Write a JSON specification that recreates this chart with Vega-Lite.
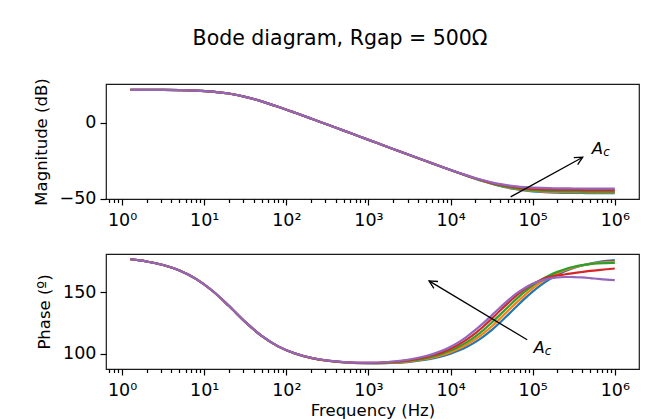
{
  "$schema": "https://vega.github.io/schema/vega-lite/v6.json",
  "padding": {"left": 32, "top": 28, "right": 5, "bottom": 5},
  "title": {"text": "Bode diagram, Rgap = 500Ω", "font": "DejaVu Sans", "fontSize": 20.5, "fontWeight": "normal", "color": "black", "anchor": "middle", "offset": 28, "dx": 4},
  "spacing": 23,
  "config": {
    "font": "DejaVu Sans",
    "view": {"stroke": "#1a1a1a", "strokeWidth": 1.2},
    "axis": {"labelFont": "DejaVu Sans", "titleFont": "DejaVu Sans", "labelFontSize": 17.5, "titleFontSize": 16.5, "titleFontWeight": "normal", "labelColor": "black", "titleColor": "black", "tickColor": "black", "tickWidth": 1.2, "domain": false, "grid": false, "tickSize": 6, "labelPadding": 4, "titlePadding": 10}
  },
  "datasets": {
    "mag": [
      {"f": 1.259, "s1": 21.49, "s2": 21.49, "s3": 21.49, "s4": 21.49, "s5": 21.49},
      {"f": 1.995, "s1": 21.47, "s2": 21.47, "s3": 21.47, "s4": 21.47, "s5": 21.47},
      {"f": 3.162, "s1": 21.42, "s2": 21.42, "s3": 21.42, "s4": 21.42, "s5": 21.42},
      {"f": 5.012, "s1": 21.30, "s2": 21.30, "s3": 21.30, "s4": 21.30, "s5": 21.30},
      {"f": 7.943, "s1": 21.01, "s2": 21.01, "s3": 21.01, "s4": 21.01, "s5": 21.01},
      {"f": 12.59, "s1": 20.36, "s2": 20.36, "s3": 20.36, "s4": 20.36, "s5": 20.36},
      {"f": 19.95, "s1": 19.06, "s2": 19.06, "s3": 19.06, "s4": 19.06, "s5": 19.06},
      {"f": 31.62, "s1": 16.89, "s2": 16.89, "s3": 16.89, "s4": 16.89, "s5": 16.89},
      {"f": 50.12, "s1": 13.90, "s2": 13.90, "s3": 13.90, "s4": 13.90, "s5": 13.90},
      {"f": 79.43, "s1": 10.38, "s2": 10.38, "s3": 10.38, "s4": 10.38, "s5": 10.38},
      {"f": 125.9, "s1": 6.59, "s2": 6.59, "s3": 6.59, "s4": 6.59, "s5": 6.59},
      {"f": 199.5, "s1": 2.68, "s2": 2.68, "s3": 2.68, "s4": 2.68, "s5": 2.68},
      {"f": 316.2, "s1": -1.29, "s2": -1.29, "s3": -1.29, "s4": -1.29, "s5": -1.29},
      {"f": 501.2, "s1": -5.28, "s2": -5.28, "s3": -5.28, "s4": -5.28, "s5": -5.28},
      {"f": 794.3, "s1": -9.27, "s2": -9.27, "s3": -9.27, "s4": -9.27, "s5": -9.27},
      {"f": 1259, "s1": -13.27, "s2": -13.27, "s3": -13.27, "s4": -13.27, "s5": -13.27},
      {"f": 1995, "s1": -17.26, "s2": -17.26, "s3": -17.26, "s4": -17.26, "s5": -17.26},
      {"f": 3162, "s1": -21.26, "s2": -21.25, "s3": -21.25, "s4": -21.25, "s5": -21.24},
      {"f": 5012, "s1": -25.24, "s2": -25.23, "s3": -25.23, "s4": -25.22, "s5": -25.20},
      {"f": 6310, "s1": -27.22, "s2": -27.21, "s3": -27.20, "s4": -27.18, "s5": -27.16},
      {"f": 7943, "s1": -29.18, "s2": -29.17, "s3": -29.16, "s4": -29.14, "s5": -29.10},
      {"f": 10000, "s1": -31.14, "s2": -31.12, "s3": -31.10, "s4": -31.06, "s5": -31.00},
      {"f": 12589, "s1": -33.06, "s2": -33.03, "s3": -33.00, "s4": -32.94, "s5": -32.86},
      {"f": 15849, "s1": -34.94, "s2": -34.90, "s3": -34.86, "s4": -34.76, "s5": -34.63},
      {"f": 19953, "s1": -36.76, "s2": -36.70, "s3": -36.63, "s4": -36.48, "s5": -36.30},
      {"f": 25119, "s1": -38.48, "s2": -38.39, "s3": -38.30, "s4": -38.08, "s5": -37.83},
      {"f": 31623, "s1": -40.08, "s2": -39.96, "s3": -39.83, "s4": -39.51, "s5": -39.20},
      {"f": 39811, "s1": -41.51, "s2": -41.36, "s3": -41.20, "s4": -40.73, "s5": -40.26},
      {"f": 50119, "s1": -42.73, "s2": -42.50, "s3": -42.26, "s4": -41.73, "s5": -41.20},
      {"f": 63096, "s1": -43.73, "s2": -43.47, "s3": -43.20, "s4": -42.51, "s5": -41.83},
      {"f": 79433, "s1": -44.51, "s2": -44.17, "s3": -43.83, "s4": -43.08, "s5": -42.30},
      {"f": 100000, "s1": -45.08, "s2": -44.69, "s3": -44.30, "s4": -43.48, "s5": -42.63},
      {"f": 125893, "s1": -45.48, "s2": -45.06, "s3": -44.63, "s4": -43.76, "s5": -42.86},
      {"f": 158489, "s1": -45.76, "s2": -45.31, "s3": -44.86, "s4": -43.94, "s5": -43.00},
      {"f": 199526, "s1": -45.94, "s2": -45.47, "s3": -45.00, "s4": -44.06, "s5": -43.10},
      {"f": 251189, "s1": -46.06, "s2": -45.58, "s3": -45.10, "s4": -44.14, "s5": -43.16},
      {"f": 316228, "s1": -46.14, "s2": -45.65, "s3": -45.16, "s4": -44.18, "s5": -43.20},
      {"f": 398107, "s1": -46.18, "s2": -45.69, "s3": -45.20, "s4": -44.22, "s5": -43.23},
      {"f": 501187, "s1": -46.22, "s2": -45.73, "s3": -45.23, "s4": -44.24, "s5": -43.24},
      {"f": 630957, "s1": -46.24, "s2": -45.74, "s3": -45.24, "s4": -44.25, "s5": -43.25},
      {"f": 794328, "s1": -46.25, "s2": -45.75, "s3": -45.25, "s4": -44.26, "s5": -43.26},
      {"f": 1000000, "s1": -46.26, "s2": -45.76, "s3": -45.26, "s4": -44.26, "s5": -43.26}
    ],
    "phase": [
      {"f": 1.259, "s1": 176.87, "s2": 176.87, "s3": 176.87, "s4": 176.87, "s5": 176.87},
      {"f": 1.995, "s1": 175.04, "s2": 175.04, "s3": 175.04, "s4": 175.04, "s5": 175.04},
      {"f": 3.162, "s1": 172.17, "s2": 172.17, "s3": 172.17, "s4": 172.17, "s5": 172.17},
      {"f": 5.012, "s1": 167.71, "s2": 167.71, "s3": 167.71, "s4": 167.71, "s5": 167.71},
      {"f": 7.943, "s1": 160.94, "s2": 160.94, "s3": 160.94, "s4": 160.94, "s5": 160.94},
      {"f": 12.59, "s1": 151.30, "s2": 151.30, "s3": 151.30, "s4": 151.30, "s5": 151.30},
      {"f": 19.95, "s1": 139.06, "s2": 139.06, "s3": 139.06, "s4": 139.06, "s5": 139.06},
      {"f": 31.62, "s1": 126.03, "s2": 126.03, "s3": 126.03, "s4": 126.03, "s5": 126.03},
      {"f": 50.12, "s1": 114.65, "s2": 114.65, "s3": 114.65, "s4": 114.65, "s5": 114.65},
      {"f": 79.43, "s1": 106.15, "s2": 106.15, "s3": 106.15, "s4": 106.15, "s5": 106.15},
      {"f": 125.9, "s1": 100.48, "s2": 100.49, "s3": 100.51, "s4": 100.53, "s5": 100.55},
      {"f": 199.5, "s1": 96.78, "s2": 96.81, "s3": 96.84, "s4": 96.87, "s5": 96.90},
      {"f": 316.2, "s1": 94.48, "s2": 94.52, "s3": 94.57, "s4": 94.62, "s5": 94.67},
      {"f": 501.2, "s1": 93.14, "s2": 93.20, "s3": 93.27, "s4": 93.35, "s5": 93.44},
      {"f": 794.3, "s1": 92.47, "s2": 92.57, "s3": 92.68, "s4": 92.80, "s5": 92.94},
      {"f": 1259, "s1": 92.33, "s2": 92.49, "s3": 92.66, "s4": 92.86, "s5": 93.08},
      {"f": 1995, "s1": 92.69, "s2": 92.94, "s3": 93.22, "s4": 93.53, "s5": 93.88},
      {"f": 3162, "s1": 93.64, "s2": 94.03, "s3": 94.47, "s4": 94.96, "s5": 95.51},
      {"f": 5012, "s1": 95.35, "s2": 95.97, "s3": 96.66, "s4": 97.44, "s5": 98.30},
      {"f": 6310, "s1": 96.61, "s2": 97.39, "s3": 98.25, "s4": 99.22, "s5": 100.29},
      {"f": 7943, "s1": 98.21, "s2": 99.18, "s3": 100.25, "s4": 101.45, "s5": 102.79},
      {"f": 10000, "s1": 100.21, "s2": 101.41, "s3": 102.75, "s4": 104.23, "s5": 105.87},
      {"f": 12589, "s1": 102.72, "s2": 104.20, "s3": 105.84, "s4": 107.65, "s5": 109.63},
      {"f": 15849, "s1": 105.82, "s2": 107.63, "s3": 109.61, "s4": 111.78, "s5": 114.15},
      {"f": 19953, "s1": 109.60, "s2": 111.77, "s3": 114.14, "s4": 116.69, "s5": 119.42},
      {"f": 25119, "s1": 114.12, "s2": 116.67, "s3": 119.40, "s4": 122.30, "s5": 125.05},
      {"f": 31623, "s1": 119.39, "s2": 122.29, "s3": 125.34, "s4": 128.50, "s5": 131.25},
      {"f": 39811, "s1": 125.33, "s2": 128.49, "s3": 131.74, "s4": 135.03, "s5": 137.52},
      {"f": 50119, "s1": 131.74, "s2": 135.03, "s3": 138.12, "s4": 141.27, "s5": 143.53},
      {"f": 63096, "s1": 138.31, "s2": 141.41, "s3": 144.47, "s4": 147.27, "s5": 148.87},
      {"f": 79433, "s1": 144.72, "s2": 147.59, "s3": 150.36, "s4": 152.50, "s5": 153.35},
      {"f": 100000, "s1": 150.60, "s2": 153.16, "s3": 155.55, "s4": 156.81, "s5": 156.88},
      {"f": 125893, "s1": 155.86, "s2": 158.02, "s3": 159.99, "s4": 160.06, "s5": 159.37},
      {"f": 158489, "s1": 160.38, "s2": 162.10, "s3": 163.65, "s4": 162.31, "s5": 161.09},
      {"f": 199526, "s1": 164.15, "s2": 165.45, "s3": 166.61, "s4": 163.72, "s5": 162.12},
      {"f": 251189, "s1": 167.23, "s2": 168.14, "s3": 168.94, "s4": 164.69, "s5": 162.46},
      {"f": 316228, "s1": 169.73, "s2": 170.26, "s3": 170.73, "s4": 165.62, "s5": 162.40},
      {"f": 398107, "s1": 171.72, "s2": 171.90, "s3": 172.05, "s4": 166.49, "s5": 162.11},
      {"f": 501187, "s1": 173.30, "s2": 173.14, "s3": 172.96, "s4": 167.36, "s5": 161.55},
      {"f": 630957, "s1": 174.53, "s2": 174.01, "s3": 173.45, "s4": 168.09, "s5": 160.88},
      {"f": 794328, "s1": 175.47, "s2": 174.56, "s3": 173.68, "s4": 168.73, "s5": 160.34},
      {"f": 1000000, "s1": 176.18, "s2": 174.83, "s3": 173.84, "s4": 169.32, "s5": 159.97}
    ]
  },
  "vconcat": [
    {
      "width": 533,
      "height": 115,
      "layer": [
        {
          "data": {"name": "mag"},
          "transform": [{"fold": ["s1", "s2", "s3", "s4", "s5"], "as": ["series", "value"]}],
          "mark": {"type": "line", "strokeWidth": 2.2, "interpolate": "monotone"},
          "encoding": {
            "x": {"field": "f", "type": "quantitative", "scale": {"type": "log", "domain": [0.638, 1972000], "nice": false},
              "axis": {"values": [1, 10, 100, 1000, 10000, 100000, 1000000], "labelExpr": "datum.value == 1 ? '10⁰' : datum.value == 10 ? '10¹' : datum.value == 100 ? '10²' : datum.value == 1000 ? '10³' : datum.value == 10000 ? '10⁴' : datum.value == 100000 ? '10⁵' : datum.value == 1000000 ? '10⁶' : ''", "title": null, "labelOverlap": false, "labelFlush": false, "tickSize": 6, "labelPadding": 6}},
            "y": {"field": "value", "type": "quantitative", "scale": {"domain": [-50.1, 25.3], "nice": false, "zero": false},
              "axis": {"values": [-50, 0], "title": "Magnitude (dB)"}},
            "color": {"field": "series", "type": "nominal", "scale": {"domain": ["s1", "s2", "s3", "s4", "s5"], "range": ["#1f77b4", "#ff7f0e", "#2ca02c", "#d62728", "#9467bd"]}, "legend": null}
          }
        },
        {
          "data": {"values": [{"f": 53900, "v": -48.7, "f2": 407000, "v2": -22.7}]},
          "mark": {"type": "rule", "color": "black", "strokeWidth": 1.3},
          "encoding": {
            "x": {"field": "f", "type": "quantitative",
              "axis": {"orient": "bottom", "values": [0.7, 0.8, 0.9, 2, 3, 4, 5, 6, 7, 8, 9, 20, 30, 40, 50, 60, 70, 80, 90, 200, 300, 400, 500, 600, 700, 800, 900, 2000, 3000, 4000, 5000, 6000, 7000, 8000, 9000, 20000, 30000, 40000, 50000, 60000, 70000, 80000, 90000, 200000, 300000, 400000, 500000, 600000, 700000, 800000, 900000], "labels": false, "tickSize": 3.5, "title": null}},
            "y": {"field": "v", "type": "quantitative"},
            "x2": {"field": "f2"},
            "y2": {"field": "v2"}
          }
        },
        {
          "data": {"values": [{"f": 407000, "v": -22.7}]},
          "mark": {"type": "point", "shape": "M -0.5 1 L 0 0 L 0.5 1", "filled": false, "color": "black", "strokeWidth": 1.3, "size": 256, "angle": 61, "opacity": 1},
          "encoding": {
            "x": {"field": "f", "type": "quantitative", "axis": null},
            "y": {"field": "v", "type": "quantitative"}
          }
        },
        {
          "data": {"values": [{"f": 615000, "v": -17.1, "label": "A", "sub": "c"}]},
          "layer": [
            {"mark": {"type": "text", "font": "DejaVu Sans", "fontStyle": "italic", "fontSize": 16.5, "align": "center", "baseline": "middle", "color": "black"},
              "encoding": {"x": {"field": "f", "type": "quantitative", "axis": null}, "y": {"field": "v", "type": "quantitative"}, "text": {"field": "label"}}},
            {"mark": {"type": "text", "font": "DejaVu Sans", "fontStyle": "italic", "fontSize": 12, "align": "center", "baseline": "middle", "color": "black", "dx": 9, "dy": 3},
              "encoding": {"x": {"field": "f", "type": "quantitative", "axis": null}, "y": {"field": "v", "type": "quantitative"}, "text": {"field": "sub"}}}
          ]
        }
      ],
      "resolve": {"axis": {"x": "independent"}}
    },
    {
      "width": 533,
      "height": 115,
      "layer": [
        {
          "data": {"name": "phase"},
          "transform": [{"fold": ["s1", "s2", "s3", "s4", "s5"], "as": ["series", "value"]}],
          "mark": {"type": "line", "strokeWidth": 2.2, "interpolate": "monotone"},
          "encoding": {
            "x": {"field": "f", "type": "quantitative", "scale": {"type": "log", "domain": [0.638, 1972000], "nice": false},
              "axis": {"values": [1, 10, 100, 1000, 10000, 100000, 1000000], "labelExpr": "datum.value == 1 ? '10⁰' : datum.value == 10 ? '10¹' : datum.value == 100 ? '10²' : datum.value == 1000 ? '10³' : datum.value == 10000 ? '10⁴' : datum.value == 100000 ? '10⁵' : datum.value == 1000000 ? '10⁶' : ''", "title": "Frequency (Hz)", "titlePadding": 4, "labelOverlap": false, "labelFlush": false, "tickSize": 6, "labelPadding": 6}},
            "y": {"field": "value", "type": "quantitative", "scale": {"domain": [87.8, 181.1], "nice": false, "zero": false},
              "axis": {"values": [100, 150], "title": "Phase (º)"}},
            "color": {"field": "series", "type": "nominal", "scale": {"domain": ["s1", "s2", "s3", "s4", "s5"], "range": ["#1f77b4", "#ff7f0e", "#2ca02c", "#d62728", "#9467bd"]}, "legend": null}
          }
        },
        {
          "data": {"values": [{"f": 85800, "v": 111.5, "f2": 5480, "v2": 159.3}]},
          "mark": {"type": "rule", "color": "black", "strokeWidth": 1.3},
          "encoding": {
            "x": {"field": "f", "type": "quantitative",
              "axis": {"orient": "bottom", "values": [0.7, 0.8, 0.9, 2, 3, 4, 5, 6, 7, 8, 9, 20, 30, 40, 50, 60, 70, 80, 90, 200, 300, 400, 500, 600, 700, 800, 900, 2000, 3000, 4000, 5000, 6000, 7000, 8000, 9000, 20000, 30000, 40000, 50000, 60000, 70000, 80000, 90000, 200000, 300000, 400000, 500000, 600000, 700000, 800000, 900000], "labels": false, "tickSize": 3.5, "title": null}},
            "y": {"field": "v", "type": "quantitative"},
            "x2": {"field": "f2"},
            "y2": {"field": "v2"}
          }
        },
        {
          "data": {"values": [{"f": 5480, "v": 159.3}]},
          "mark": {"type": "point", "shape": "M -0.5 1 L 0 0 L 0.5 1", "filled": false, "color": "black", "strokeWidth": 1.3, "size": 256, "angle": 300.7, "opacity": 1},
          "encoding": {
            "x": {"field": "f", "type": "quantitative", "axis": null},
            "y": {"field": "v", "type": "quantitative"}
          }
        },
        {
          "data": {"values": [{"f": 120000, "v": 104.9, "label": "A", "sub": "c"}]},
          "layer": [
            {"mark": {"type": "text", "font": "DejaVu Sans", "fontStyle": "italic", "fontSize": 16.5, "align": "center", "baseline": "middle", "color": "black"},
              "encoding": {"x": {"field": "f", "type": "quantitative", "axis": null}, "y": {"field": "v", "type": "quantitative"}, "text": {"field": "label"}}},
            {"mark": {"type": "text", "font": "DejaVu Sans", "fontStyle": "italic", "fontSize": 12, "align": "center", "baseline": "middle", "color": "black", "dx": 9, "dy": 3},
              "encoding": {"x": {"field": "f", "type": "quantitative", "axis": null}, "y": {"field": "v", "type": "quantitative"}, "text": {"field": "sub"}}}
          ]
        }
      ],
      "resolve": {"axis": {"x": "independent"}}
    }
  ]
}
